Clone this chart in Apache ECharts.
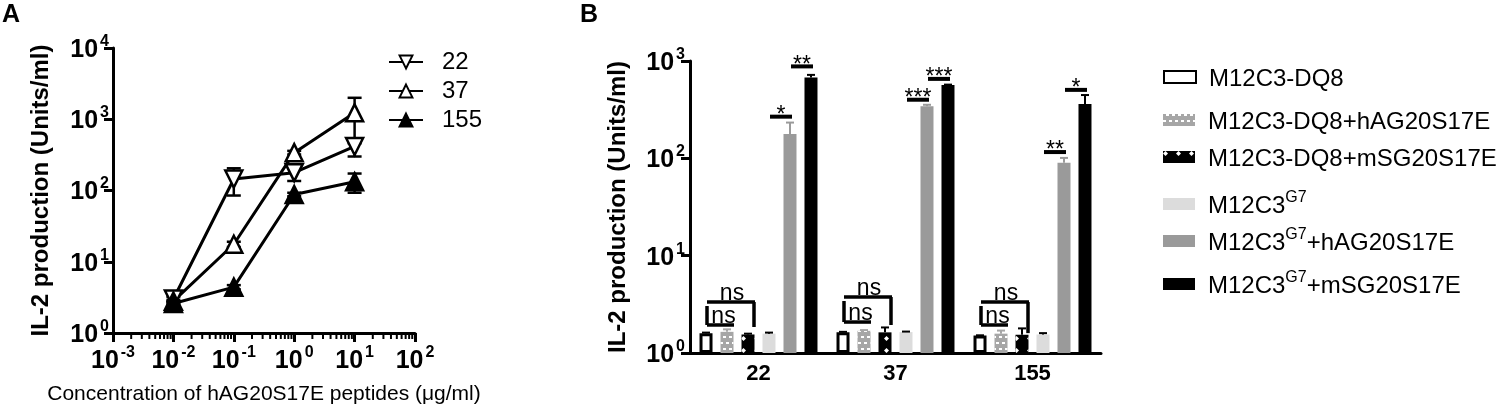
<!DOCTYPE html>
<html><head><meta charset="utf-8">
<script src="https://cdn.jsdelivr.net/npm/echarts@6/dist/echarts.min.js"></script>
<style>html,body{margin:0;padding:0;background:#fff}#c{width:1501px;height:410px}</style>
</head><body><div id="c"></div>
<script>
// ---------- Panel A data ----------
const concentrations = [0.01, 0.1, 1, 10];
const mean22 = [3.0, 145, 178, 415];
const sd22 = [0.2, 60, 42, 115];
const mean37 = [2.8, 17.6, 340, 1230];
const sd37 = [0.1, 1.5, 20, 770];
const mean155 = [2.6, 4.4, 88, 133];
const sd155 = [0.1, 0.3, 5, 40];
const lineNames = ['22', '37', '155'];

// ---------- Panel B data ----------
const categories = ['22', '37', '155'];
const barNames = ['M12C3-DQ8', 'M12C3-DQ8+hAG20S17E', 'M12C3-DQ8+mSG20S17E', 'M12C3G7', 'M12C3G7+hAG20S17E', 'M12C3G7+mSG20S17E'];
const dq8 = [1.6, 1.63, 1.51];
const dq8Err = [0.02, 0.02, 0.01];
const dq8h = [1.65, 1.69, 1.58];
const dq8hErr = [0.1, 0.03, 0.12];
const dq8m = [1.55, 1.63, 1.54];
const dq8mErr = [0.03, 0.2, 0.25];
const g7 = [1.58, 1.64, 1.55];
const g7Err = [0.04, 0.02, 0.05];
const g7h = [178, 343, 90];
const g7hErr = [55, 12, 11];
const g7m = [675, 567, 362];
const g7mErr = [45, 5, 85];

// significance annotations
const nsOuterY = [3.34, 3.76, 3.34];
const nsInnerY = [1.94, 2.08, 1.94];
const nsRightLegY = [1.85, 1.94, 1.6];
const sigCat = [0, 0, 1, 1, 2, 2];
const sigBar = [4, 5, 4, 5, 4, 5];
const sigY = [268, 880, 400, 655, 116, 505];
const sigText = ['*', '**', '***', '***', '**', '*'];

// ---------- helpers ----------
const FONT = '"Liberation Sans", Arial, Helvetica, sans-serif';
const BAR_W = 13, BAR_STEP = 21;
function powLabel(v) {
  const e = Math.round(Math.log10(v));
  return '{b|10}{s|' + e + '}';
}
const powRich = {
  b: { fontSize: 25, fontWeight: 'bold', fontFamily: FONT, color: '#000', lineHeight: 29, verticalAlign: 'bottom' },
  s: { fontSize: 16, fontWeight: 'bold', fontFamily: FONT, color: '#000', lineHeight: 16, verticalAlign: 'top', padding: [0, 0, 0, 2] }
};
const minorTicks = [];
for (let e = -3; e < 2; e++) for (let k = 2; k <= 9; k++) minorTicks.push(k * Math.pow(10, e));

const barSeriesData = [dq8, dq8h, dq8m, g7, g7h, g7m];
const barErrData = [dq8Err, dq8hErr, dq8mErr, g7Err, g7hErr, g7mErr];
const barColors = ['#ffffff', '#a6a6a6', '#000000', '#dcdcdc', '#9a9a9a', '#000000'];
const errColors = ['#000', '#a6a6a6', '#000', '#000', '#9a9a9a', '#000'];

function errBarsA(color) {
  return function (params, api) {
    const x = api.value(0), m = api.value(1), e = api.value(2);
    const t = api.coord([x, m + e]);
    const b = api.coord([x, Math.max(m - e, 1.0001)]);
    const cw = 7, st = { stroke: color, lineWidth: 2.5 };
    return { type: 'group', children: [
      { type: 'line', shape: { x1: t[0], y1: t[1], x2: b[0], y2: b[1] }, style: st },
      { type: 'line', shape: { x1: t[0] - cw, y1: t[1], x2: t[0] + cw, y2: t[1] }, style: st },
      { type: 'line', shape: { x1: b[0] - cw, y1: b[1], x2: b[0] + cw, y2: b[1] }, style: st }
    ]};
  };
}
function lineSeries(name, data, sym, rot, filled) {
  return {
    type: 'line', name: name, xAxisIndex: 0, yAxisIndex: 0, z: 5,
    data: concentrations.map((c, i) => [c, data[i]]),
    symbol: sym, symbolRotate: rot, symbolSize: 17,
    lineStyle: { color: '#000', width: 3 },
    itemStyle: { color: filled ? '#000' : '#fff', borderColor: '#000', borderWidth: 2.5 },
    emphasis: { disabled: true }, animation: false
  };
}
function errSeriesA(mean, sd) {
  return {
    type: 'custom', xAxisIndex: 0, yAxisIndex: 0, z: 3, silent: true, animation: false,
    encode: { x: 0, y: 1 },
    data: concentrations.map((c, i) => [c, mean[i], sd[i]]),
    renderItem: errBarsA('#000')
  };
}

const decals = [
  null,
  { symbol: 'rect', color: '#ffffff', backgroundColor: null, dashArrayX: [[3, 3], [0, 3, 3, 0]], dashArrayY: [2, 4], symbolSize: 1, rotation: 0 },
  { symbol: 'diamond', color: '#ffffff', backgroundColor: null, dashArrayX: [5, 8], dashArrayY: [5, 7], symbolSize: 1, rotation: 0 },
  null, null, null
];

const barSeries = barNames.map((n, i) => ({
  type: 'bar', name: n, xAxisIndex: 1, yAxisIndex: 1,
  data: barSeriesData[i], barWidth: BAR_W, barGap: '61.5%',
  itemStyle: Object.assign({ color: barColors[i] },
    i === 0 ? { borderColor: '#000', borderWidth: 3 } : {},
    decals[i] ? { decal: decals[i] } : {}),
  emphasis: { disabled: true }, animation: false
}));

const errDataB = [];
barSeriesData.forEach((arr, s) => arr.forEach((v, c) => errDataB.push([c, s, v, barErrData[s][c]])));

const legendRich = {
  s: { fontSize: 16, fontFamily: FONT, color: '#000', verticalAlign: 'top', lineHeight: 16 },
  n: { fontSize: 24, fontFamily: FONT, color: '#000', verticalAlign: 'bottom', lineHeight: 28 }
};
function legendFmt(name) {
  if (name.indexOf('M12C3G7') === 0) return '{n|M12C3}{s|G7}{n|' + name.slice(7) + '}';
  return '{n|' + name + '}';
}
const legendTops = [76, 119, 156, 199, 236, 279];
const barLegends = barNames.map((n, i) => ({
  data: [n], left: 1158, top: legendTops[i] - 14, orient: 'vertical',
  itemWidth: 32, itemHeight: 12, icon: 'rect', selectedMode: false,
  formatter: legendFmt,
  textStyle: { fontFamily: FONT, fontSize: 24, color: '#000', padding: [0, 0, 0, 8], rich: legendRich }
}));

const option = {
  animation: false,
  backgroundColor: '#fff',
  textStyle: { fontFamily: FONT },
  graphic: [
    { type: 'text', left: 2, top: 3, style: { text: 'A', fontSize: 25, fontWeight: 'bold', fontFamily: FONT, fill: '#000' } },
    { type: 'text', left: 580, top: 3, style: { text: 'B', fontSize: 25, fontWeight: 'bold', fontFamily: FONT, fill: '#000' } }
  ],
  legend: [
    { data: lineNames, left: 383, top: 45, orient: 'vertical', itemWidth: 34, itemHeight: 16, itemGap: 5,
      selectedMode: false,
      textStyle: { fontFamily: FONT, fontSize: 24, color: '#000', lineHeight: 24, padding: [0, 0, 0, 14] } }
  ].concat(barLegends),
  grid: [
    { left: 113, top: 48, width: 302, height: 286 },
    { left: 690, top: 61, width: 411, height: 292 }
  ],
  xAxis: [
    { type: 'log', logBase: 10, gridIndex: 0, min: 0.001, max: 100,
      name: 'Concentration of hAG20S17E peptides (μg/ml)', nameLocation: 'middle', nameGap: 51,
      nameTextStyle: { fontSize: 21, fontFamily: FONT, color: '#000' },
      axisLine: { lineStyle: { color: '#000', width: 3 } },
      axisTick: { inside: false, length: 9, lineStyle: { color: '#000', width: 3 } },
      axisLabel: { formatter: powLabel, rich: powRich, margin: 12 },
      splitLine: { show: false } },
    { type: 'category', gridIndex: 1, data: categories,
      axisLine: { lineStyle: { color: '#000', width: 3 } },
      axisTick: { alignWithLabel: true, length: 11, lineStyle: { color: '#000', width: 3 } },
      axisLabel: { fontSize: 22, fontWeight: 'bold', color: '#000', fontFamily: FONT, margin: 10 },
      splitLine: { show: false } }
  ],
  yAxis: [
    { type: 'log', logBase: 10, gridIndex: 0, min: 1, max: 10000,
      name: 'IL-2 production (Units/ml)', nameLocation: 'middle', nameGap: 60,
      nameTextStyle: { fontSize: 24, fontWeight: 'bold', fontFamily: FONT, color: '#000' },
      axisLine: { show: true, lineStyle: { color: '#000', width: 3 } },
      axisTick: { show: true, length: 9, lineStyle: { color: '#000', width: 3 } },
      axisLabel: { formatter: powLabel, rich: powRich, margin: 4 },
      splitLine: { show: false } },
    { type: 'log', logBase: 10, gridIndex: 1, min: 1, max: 1000,
      name: 'IL-2 production (Units/ml)', nameLocation: 'middle', nameGap: 60,
      nameTextStyle: { fontSize: 24, fontWeight: 'bold', fontFamily: FONT, color: '#000' },
      axisLine: { show: true, lineStyle: { color: '#000', width: 3 } },
      axisTick: { show: true, length: 9, lineStyle: { color: '#000', width: 3 } },
      axisLabel: { formatter: powLabel, rich: powRich, margin: 5 },
      splitLine: { show: false } }
  ],
  series: [
    // minor ticks on A x axis
    { type: 'custom', xAxisIndex: 0, yAxisIndex: 0, silent: true, animation: false, clip: false,
      encode: { x: 0 }, data: minorTicks.map(v => [v, 1]),
      renderItem: function (params, api) {
        const p = api.coord([api.value(0), 1]);
        return { type: 'line', shape: { x1: p[0], y1: p[1], x2: p[0], y2: p[1] + 6 }, style: { stroke: '#000', lineWidth: 2 } };
      } },
    errSeriesA(mean22, sd22),
    errSeriesA(mean37, sd37),
    errSeriesA(mean155, sd155),
    lineSeries('22', mean22, 'triangle', 180, false),
    lineSeries('37', mean37, 'triangle', 0, false),
    lineSeries('155', mean155, 'triangle', 0, true)
  ].concat(barSeries).concat([
    // bar error bars (upper)
    { type: 'custom', xAxisIndex: 1, yAxisIndex: 1, silent: true, animation: false, z: 4,
      encode: { x: 0, y: 2 }, data: errDataB,
      renderItem: function (params, api) {
        const c = api.value(0), s = api.value(1), v = api.value(2), e = api.value(3);
        const top = api.coord([c, v + e]);
        const base = api.coord([c, v]);
        const x = top[0] + (s - 2.5) * BAR_STEP;
        const st = { stroke: errColors[s], lineWidth: 2 };
        return { type: 'group', children: [
          { type: 'line', shape: { x1: x, y1: base[1], x2: x, y2: top[1] }, style: st },
          { type: 'line', shape: { x1: x - 4, y1: top[1], x2: x + 4, y2: top[1] }, style: st }
        ]};
      } },
    // ns brackets
    { type: 'custom', xAxisIndex: 1, yAxisIndex: 1, silent: true, animation: false, z: 6, clip: false,
      encode: { x: 0, y: 1 }, data: categories.map((c, i) => [i, nsOuterY[i], nsInnerY[i], nsRightLegY[i]]),
      renderItem: function (params, api) {
        const c = api.value(0);
        const po = api.coord([c, api.value(1)]);
        const pi = api.coord([c, api.value(2)]);
        const pr = api.coord([c, api.value(3)]);
        const x0 = po[0] - 2.5 * BAR_STEP, x1 = po[0] - 1.5 * BAR_STEP, x2 = po[0] - 0.5 * BAR_STEP;
        const st = { stroke: '#000', lineWidth: 3.5 };
        const ts = { fontSize: 23, fontFamily: FONT, fill: '#000', align: 'center', verticalAlign: 'bottom' };
        return { type: 'group', children: [
          { type: 'line', shape: { x1: x0 + 1, y1: po[1], x2: x2 + 7, y2: po[1] }, style: st },
          { type: 'line', shape: { x1: x2 + 6, y1: po[1], x2: x2 + 6, y2: pr[1] }, style: st },
          { type: 'line', shape: { x1: x0 + 1, y1: po[1] + 4, x2: x0 + 1, y2: pi[1] }, style: st },
          { type: 'line', shape: { x1: x0 + 1, y1: pi[1], x2: x1 + 7, y2: pi[1] }, style: st },
          { type: 'text', style: Object.assign({ text: 'ns', x: (x0 + x2) / 2 + 5, y: po[1] + 3 }, ts) },
          { type: 'text', style: Object.assign({ text: 'ns', x: (x0 + x1) / 2 + 7, y: pi[1] + 3 }, ts) }
        ]};
      } },
    // significance stars
    { type: 'custom', xAxisIndex: 1, yAxisIndex: 1, silent: true, animation: false, z: 6, clip: false,
      encode: { x: 0, y: 2 }, data: sigCat.map((c, i) => [c, sigBar[i], sigY[i]]),
      renderItem: function (params, api) {
        const c = api.value(0), s = api.value(1), y = api.value(2);
        const p = api.coord([c, y]);
        const x = p[0] + (s - 2.5) * BAR_STEP - 9;
        return { type: 'group', children: [
          { type: 'line', shape: { x1: x - 11, y1: p[1], x2: x + 11, y2: p[1] }, style: { stroke: '#000', lineWidth: 4 } },
          { type: 'text', style: { text: sigText[params.dataIndex], x: x, y: p[1] - 1, align: 'center', verticalAlign: 'middle',
            fontSize: 23, fontFamily: FONT, fill: '#000' } }
        ]};
      } }
  ])
};

const chart = echarts.init(document.getElementById('c'), null, { renderer: 'canvas' });
chart.setOption(option);
</script>
</body></html>
